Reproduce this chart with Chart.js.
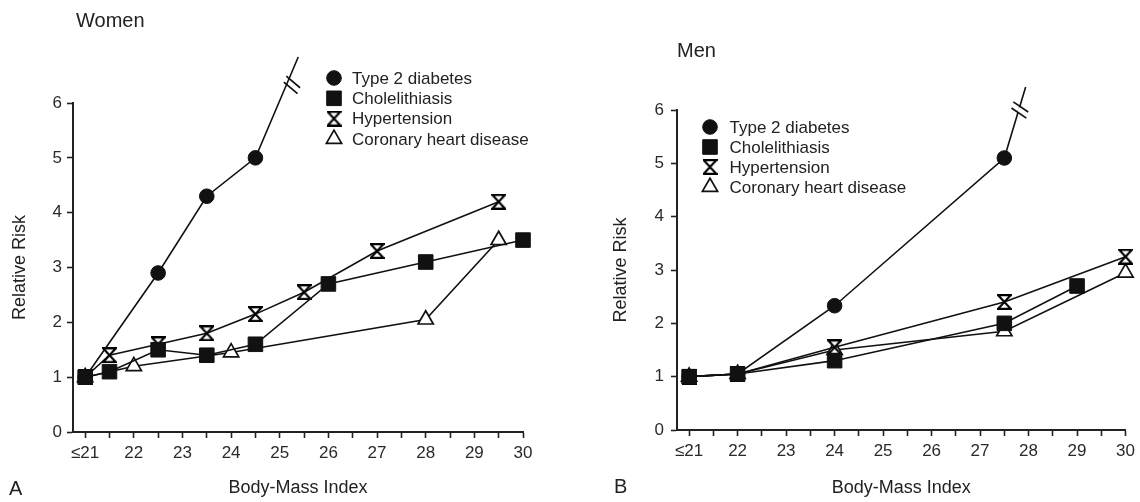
<!DOCTYPE html>
<html>
<head>
<meta charset="utf-8">
<script src="https://cdn.jsdelivr.net/npm/chart.js@4.4.0/dist/chart.umd.min.js"></script>
<style>
  body { margin: 0; background: #fff; }
  #wrap { position: relative; width: 1140px; height: 502px; font-family: "Liberation Sans", Arial, sans-serif; color: #222; }
  canvas { position: absolute; top: 0; }
  .lbl { position: absolute; font-size: 20px; line-height: 1; white-space: nowrap; }
</style>
</head>
<body>
<div id="wrap">
  <canvas id="women" width="575" height="502" style="left:0"></canvas>
  <canvas id="men" width="560" height="502" style="left:580px"></canvas>
  <div class="lbl" style="left:76px;top:10px">Women</div>
  <div class="lbl" style="left:677px;top:40px">Men</div>
  <div class="lbl" style="left:9px;top:478px">A</div>
  <div class="lbl" style="left:614px;top:476px">B</div>
</div>
<script>
// tick positions on the BMI axis (half units get a mark but no label)
const bmiTicks = [21, 21.5, 22, 22.5, 23, 23.5, 24, 24.5, 25, 25.5, 26, 26.5, 27, 27.5, 28, 28.5, 29, 29.5, 30];
const seriesNames = ['Type 2 diabetes', 'Cholelithiasis', 'Hypertension', 'Coronary heart disease'];

// Women (panel A)
const wDiabX = [21, 22.5, 23.5, 24.5, 25.38];
const wDiabY = [1.0, 2.9, 4.3, 5.0, 6.84];
const wCholX = [21, 21.5, 22.5, 23.5, 24.5, 26, 28, 30];
const wCholY = [1.0, 1.1, 1.5, 1.4, 1.6, 2.7, 3.1, 3.5];
const wHypX = [21, 21.5, 22.5, 23.5, 24.5, 25.5, 27, 29.5];
const wHypY = [1.0, 1.4, 1.6, 1.8, 2.15, 2.55, 3.3, 4.2];
const wChdX = [21, 22, 24, 28, 29.5];
const wChdY = [1.0, 1.2, 1.45, 2.05, 3.5];
const wBreak = [25.25, 6.33];

// Men (panel B)
const mDiabX = [21, 22, 24, 27.5, 27.94];
const mDiabY = [1.0, 1.05, 2.33, 5.1, 6.43];
const mCholX = [21, 22, 24, 27.5, 29];
const mCholY = [1.0, 1.05, 1.3, 2.0, 2.7];
const mHypX = [21, 22, 24, 27.5, 30];
const mHypY = [1.0, 1.05, 1.55, 2.4, 3.25];
const mChdX = [21, 22, 24, 27.5, 30];
const mChdY = [1.0, 1.05, 1.5, 1.85, 2.95];
const mBreak = [27.82, 6.0];

const FONT = '"Liberation Sans", Arial, sans-serif';
Chart.defaults.font.family = FONT;
Chart.defaults.color = '#222';

function hourglass() {
  const c = document.createElement('canvas');
  c.width = 15; c.height = 16;
  const g = c.getContext('2d');
  g.beginPath();
  g.moveTo(1.2, 1.2); g.lineTo(13.8, 1.2); g.lineTo(1.2, 14.8); g.lineTo(13.8, 14.8); g.closePath();
  g.fillStyle = '#fff'; g.fill();
  g.lineWidth = 2.2; g.strokeStyle = '#000'; g.lineJoin = 'miter'; g.miterLimit = 3;
  g.stroke();
  return c;
}
const hgImg = hourglass();

// marker look per series, same order as seriesNames
const markers = [
  { style: 'circle', r: 7.3, fill: '#111', bw: 1 },
  { style: 'rect', r: 10.3, fill: '#111', bw: 1 },
  { style: hgImg, r: 8, fill: '#fff', bw: 1.5 },
  { style: 'triangle', r: 8.8, fill: '#fff', bw: 1.7 }
];

function pts(xs, ys) {
  return xs.map((x, i) => ({ x: x, y: ys[i] }));
}

function series(i, xs, ys, lastHidden) {
  const m = markers[i];
  return {
    label: seriesNames[i],
    data: pts(xs, ys),
    borderColor: '#111',
    borderWidth: 1.6,
    tension: 0,
    fill: false,
    clip: false,
    order: i === 1 ? 0 : 1,
    pointStyle: m.style,
    pointRadius: lastHidden ? (c => c.dataIndex === xs.length - 1 ? 0 : m.r) : m.r,
    pointHoverRadius: m.r,
    pointBackgroundColor: m.fill,
    pointBorderColor: '#111',
    pointBorderWidth: m.bw
  };
}

const keyPlugin = {
  id: 'keyList',
  afterDraw(chart, args, opts) {
    const ctx = chart.ctx;
    ctx.save();
    ctx.font = '17px ' + FONT;
    ctx.textBaseline = 'middle';
    seriesNames.forEach((name, i) => {
      const m = markers[i];
      const y = opts.y + i * opts.gap;
      ctx.fillStyle = m.fill;
      ctx.strokeStyle = '#111';
      ctx.lineWidth = m.bw;
      Chart.helpers.drawPoint(ctx, { pointStyle: m.style, radius: m.r, borderWidth: m.bw, rotation: 0 }, opts.x, y);
      ctx.fillStyle = '#222';
      ctx.fillText(name, opts.textX, y + 1);
    });
    ctx.restore();
  }
};

const breakPlugin = {
  id: 'axisBreak',
  afterDatasetsDraw(chart, args, opts) {
    const xs = chart.scales.x, ys = chart.scales.y;
    const d = chart.data.datasets[0].data;
    const a = d[d.length - 2], b = d[d.length - 1];
    const ax = xs.getPixelForValue(a.x), ay = ys.getPixelForValue(a.y);
    const bx = xs.getPixelForValue(b.x), by = ys.getPixelForValue(b.y);
    let ux = bx - ax, uy = by - ay;
    const len = Math.hypot(ux, uy);
    ux /= len; uy /= len;
    const px = xs.getPixelForValue(opts.at[0]), py = ys.getPixelForValue(opts.at[1]);
    const ang = 0.3;
    const nx = -uy * Math.cos(ang) - ux * Math.sin(ang);
    const ny = ux * Math.cos(ang) - uy * Math.sin(ang);
    const ctx = chart.ctx;
    ctx.save();
    ctx.strokeStyle = '#fff';
    ctx.lineWidth = 4;
    ctx.beginPath();
    ctx.moveTo(px - ux * 2.5, py - uy * 2.5);
    ctx.lineTo(px + ux * 2.5, py + uy * 2.5);
    ctx.stroke();
    ctx.strokeStyle = '#111';
    ctx.lineWidth = 1.7;
    [-3.2, 3.2].forEach(s => {
      const cx = px + ux * s, cy = py + uy * s;
      ctx.beginPath();
      ctx.moveTo(cx - nx * 9, cy - ny * 9);
      ctx.lineTo(cx + nx * 9, cy + ny * 9);
      ctx.stroke();
    });
    ctx.restore();
  }
};

function makeChart(id, datasets, cfg) {
  return new Chart(document.getElementById(id), {
    type: 'line',
    data: { datasets: datasets },
    plugins: [keyPlugin, breakPlugin],
    options: {
      responsive: false,
      animation: false,
      devicePixelRatio: 1,
      layout: { padding: cfg.padding },
      plugins: {
        legend: { display: false },
        tooltip: { enabled: false },
        keyList: cfg.key,
        axisBreak: { at: cfg.brk }
      },
      scales: {
        x: {
          type: 'linear',
          min: 20.75,
          max: 30,
          afterBuildTicks: s => { s.ticks = bmiTicks.map(v => ({ value: v })); },
          afterFit: s => { s.height = cfg.xh; },
          ticks: {
            autoSkip: false,
            maxRotation: 0,
            padding: 5,
            color: '#2a2a2a',
            font: { size: 17 },
            callback: v => v === 21 ? '\u226421' : (Number.isInteger(v) ? String(v) : '')
          },
          grid: { drawOnChartArea: false, tickLength: 6, tickColor: '#222', tickWidth: 1.6 },
          border: { display: true, color: '#222', width: 2 },
          title: { display: true, text: 'Body-Mass Index', font: { size: 18 }, color: '#222', padding: { top: 0, bottom: 3 } }
        },
        y: {
          min: 0,
          max: 6,
          afterFit: s => { s.width = cfg.yw; },
          ticks: { stepSize: 1, padding: cfg.ypad, color: '#2a2a2a', font: { size: 17 } },
          grid: { drawOnChartArea: false, tickLength: 6, tickColor: '#222', tickWidth: 1.6 },
          border: { display: true, color: '#222', width: 2 },
          title: { display: true, text: 'Relative Risk', font: { size: 18 }, color: '#222', padding: { top: cfg.ytp, bottom: 0 } }
        }
      }
    }
  });
}

makeChart('women', [
  series(0, wDiabX, wDiabY, true),
  series(1, wCholX, wCholY, false),
  series(2, wHypX, wHypY, false),
  series(3, wChdX, wChdY, false)
], {
  padding: { top: 103, right: 52, bottom: 0, left: 0 },
  xh: 70, yw: 73, ypad: 5, ytp: 9,
  key: { x: 334, textX: 352, y: 78, gap: 20.3 },
  brk: wBreak
});

makeChart('men', [
  series(0, mDiabX, mDiabY, true),
  series(1, mCholX, mCholY, false),
  series(2, mHypX, mHypY, false),
  series(3, mChdX, mChdY, false)
], {
  padding: { top: 110, right: 13, bottom: 0, left: 0 },
  xh: 72, yw: 97, ypad: 7, ytp: 30,
  key: { x: 130, textX: 149.5, y: 127, gap: 20 },
  brk: mBreak
});
</script>
</body>
</html>
